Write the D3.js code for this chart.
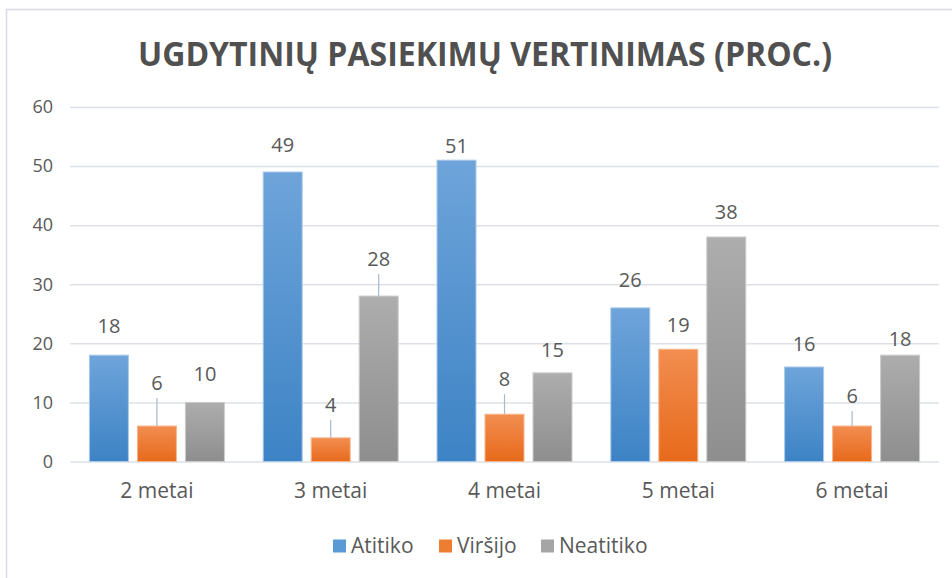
<!DOCTYPE html>
<html>
<head>
<meta charset="utf-8">
<script src="https://cdn.jsdelivr.net/npm/d3@7"></script>
<style>
  html, body { margin: 0; padding: 0; background: #ffffff; }
  svg { display: block; }
</style>
</head>
<body>
<svg id="chart" width="952" height="578"></svg>
<script>
// ---- data ----
const title = "UGDYTINIŲ PASIEKIMŲ VERTINIMAS (PROC.)";
const categories = ["2 metai", "3 metai", "4 metai", "5 metai", "6 metai"];
const seriesNames = ["Atitiko", "Viršijo", "Neatitiko"];
const atitiko   = [18, 49, 51, 26, 16];
const virsijo   = [6, 4, 8, 19, 6];
const neatitiko = [10, 28, 15, 38, 18];
const yTicks = [0, 10, 20, 30, 40, 50, 60];

// ---- presentation ----
const seriesValues = [atitiko, virsijo, neatitiko];
const colors = [
  { top: "#6ea4da", bottom: "#3d83c5", stroke: "#a9c9ea" },
  { top: "#f28d50", bottom: "#e76a1b", stroke: "#f7b58c" },
  { top: "#adadad", bottom: "#8e8e8e", stroke: "#cbcbcb" }
];
// manual label lift (px above bar top to label centre), as placed in the source chart
const labelLift = [
  [29, 27, 14, 28, 23],
  [43, 33, 35, 24, 30],
  [28, 37, 23, 25, 16]
];
const textColor = "#595959";
const font = "'Open Sans', 'Segoe UI', sans-serif";

const svg = d3.select("#chart");

// frame
svg.append("rect")
  .attr("x", 6.5).attr("y", 9.5)
  .attr("width", 960).attr("height", 600)
  .attr("fill", "#ffffff")
  .attr("stroke", "#d9dce1").attr("stroke-width", 1.5);

// gradients
const defs = svg.append("defs");
colors.forEach((c, i) => {
  const g = defs.append("linearGradient")
    .attr("id", "grad" + i)
    .attr("x1", 0).attr("y1", 0).attr("x2", 0).attr("y2", 1);
  g.append("stop").attr("offset", "0%").attr("stop-color", c.top);
  g.append("stop").attr("offset", "100%").attr("stop-color", c.bottom);
});

// title
svg.append("text")
  .attr("x", 485).attr("y", 66)
  .attr("text-anchor", "middle")
  .attr("font-family", "'Liberation Sans Narrow', 'Arial Narrow', 'Open Sans', sans-serif")
  .attr("font-weight", "bold")
  .attr("font-size", 34)
  .attr("fill", "#505050")
  .attr("textLength", 694)
  .attr("lengthAdjust", "spacingAndGlyphs")
  .text(title);

// scales
const x0 = d3.scaleBand().domain(categories).range([70, 939]);
const x1 = d3.scaleBand().domain(seriesNames).range([-67.5, 67.5]).paddingInner(0.1875);
const y = d3.scaleLinear().domain([0, 60]).range([461.5, 107]);

// gridlines + y labels
const yAxis = d3.axisLeft(y).tickValues(yTicks).tickSize(-(939 - 70)).tickPadding(17).tickFormat(d3.format("d"));
const gAxis = svg.append("g").attr("transform", "translate(70,0)").call(yAxis);
gAxis.select(".domain").remove();
gAxis.selectAll(".tick line").attr("stroke", "#dde1e7").attr("stroke-width", 1.5);
gAxis.selectAll(".tick text")
  .attr("fill", textColor)
  .attr("font-family", font)
  .attr("font-size", 18);

// x axis labels
const xAxis = d3.axisBottom(x0).tickSize(0).tickPadding(22);
const gx = svg.append("g").attr("transform", "translate(0,461.5)").call(xAxis);
gx.select(".domain").remove();
gx.selectAll(".tick text")
  .attr("fill", textColor)
  .attr("font-family", font)
  .attr("font-size", 21);

// bars
const rows = [];
seriesNames.forEach((s, si) => {
  categories.forEach((c, ci) => {
    rows.push({ s, si, c, ci, v: seriesValues[si][ci] });
  });
});

const cx = d => x0(d.c) + x0.bandwidth() / 2;

svg.append("g").selectAll("rect")
  .data(rows).join("rect")
  .attr("x", d => cx(d) + x1(d.s))
  .attr("y", d => y(d.v))
  .attr("width", x1.bandwidth())
  .attr("height", d => y(0) - y(d.v))
  .attr("fill", d => "url(#grad" + d.si + ")")
  .attr("stroke", d => colors[d.si].stroke)
  .attr("stroke-width", 1);

// leader lines
svg.append("g").selectAll("line")
  .data(rows.filter(d => labelLift[d.si][d.ci] >= 30)).join("line")
  .attr("x1", d => cx(d) + x1(d.s) + x1.bandwidth() / 2)
  .attr("x2", d => cx(d) + x1(d.s) + x1.bandwidth() / 2)
  .attr("y1", d => y(d.v) - labelLift[d.si][d.ci] + 15)
  .attr("y2", d => y(d.v))
  .attr("stroke", "#a9b8cc")
  .attr("stroke-width", 1.2);

// value labels
svg.append("g").selectAll("text")
  .data(rows).join("text")
  .attr("x", d => cx(d) + x1(d.s) + x1.bandwidth() / 2)
  .attr("y", d => y(d.v) - labelLift[d.si][d.ci])
  .attr("dy", "0.35em")
  .attr("text-anchor", "middle")
  .attr("fill", textColor)
  .attr("font-family", font)
  .attr("font-size", 20)
  .text(d => d.v);

// legend
const legendX = [333, 439, 541];
const lg = svg.append("g");
seriesNames.forEach((s, i) => {
  lg.append("rect")
    .attr("x", legendX[i]).attr("y", 539.5)
    .attr("width", 13).attr("height", 13)
    .attr("fill", ["#5b9bd5", "#ed7d31", "#a5a5a5"][i]);
  lg.append("text")
    .attr("x", legendX[i] + 18).attr("y", 546)
    .attr("dy", "0.35em")
    .attr("fill", textColor)
    .attr("font-family", font)
    .attr("font-size", 21)
    .text(s);
});
</script>
</body>
</html>
